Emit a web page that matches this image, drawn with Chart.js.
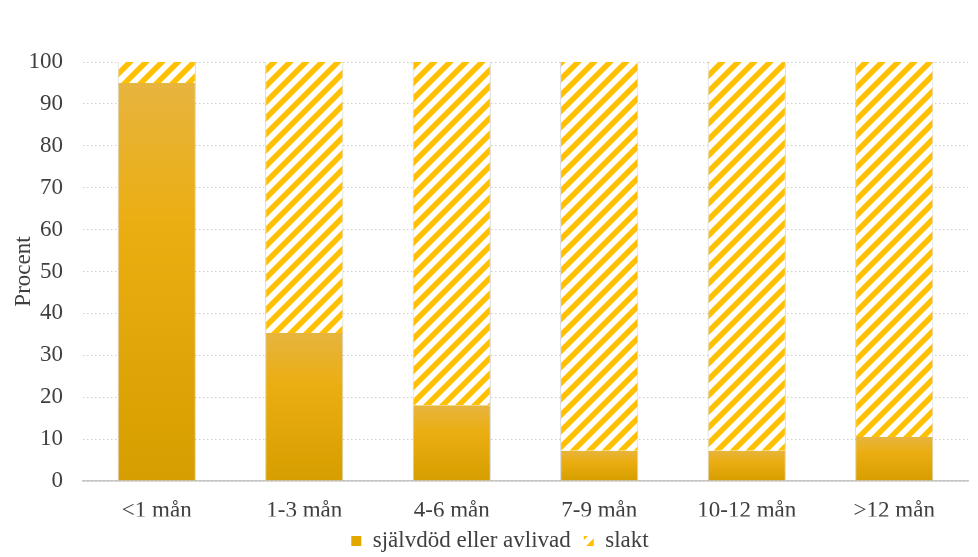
<!DOCTYPE html>
<html>
<head>
<meta charset="utf-8">
<script src="https://cdn.jsdelivr.net/npm/chart.js@4"></script>
<style>
  html, body { margin: 0; padding: 0; background: #fff; }
  #wrap { width: 978px; height: 557px; }
</style>
</head>
<body>
<div id="wrap"><canvas id="chart" width="978" height="557"></canvas></div>
<script>
// data
const categories = ["<1 mån", "1-3 mån", "4-6 mån", "7-9 mån", "10-12 mån", ">12 mån"];
const sjalvdod = [95, 35.3, 18.1, 7.2, 7.2, 10.5];
const slakt = [5, 64.7, 81.9, 92.8, 92.8, 89.5];
const yTicks = [0, 10, 20, 30, 40, 50, 60, 70, 80, 90, 100];

const serif = "'Liberation Serif', 'DejaVu Serif', serif";
const textColor = "#3f3f3f";

// diagonal stripes for "slakt"
function stripePattern() {
  const c = document.createElement("canvas");
  c.width = 16; c.height = 16;
  const g = c.getContext("2d");
  g.fillStyle = "#fff";
  g.fillRect(0, 0, 16, 16);
  g.strokeStyle = "#FFC000";
  g.lineWidth = 5.5;
  g.beginPath();
  g.moveTo(-4, 20); g.lineTo(20, -4);
  g.moveTo(-4, 4); g.lineTo(4, -4);
  g.moveTo(12, 20); g.lineTo(20, 12);
  g.stroke();
  return g.createPattern(c, "repeat");
}

const ctx = document.getElementById("chart").getContext("2d");
const pattern = stripePattern();

// per-bar gradient, lighter at the top
function solidFill(context) {
  const chart = context.chart;
  if (!chart.chartArea || !chart.scales.y) return "#E2A800";
  const top = chart.scales.y.getPixelForValue(context.raw);
  const bottom = chart.scales.y.getPixelForValue(0);
  if (!isFinite(top) || bottom - top < 1) return "#E2A800";
  const gr = chart.ctx.createLinearGradient(0, top, 0, bottom);
  gr.addColorStop(0, "#E7B43E");
  gr.addColorStop(0.35, "#EBAE12");
  gr.addColorStop(1, "#D69E00");
  return gr;
}

// fixed-height legend band, nudged right like the original
const legendBand = {
  id: "legendBand",
  beforeLayout(chart) {
    const lg = chart.legend;
    if (!lg || lg._bandPatched) return;
    const fit = lg.fit;
    lg.fit = function () {
      fit.call(this);
      this.height = 40.5;
    };
    lg._bandPatched = true;
  },
  afterLayout(chart) {
    const lg = chart.legend;
    if (!lg) return;
    lg.left += 16;
    lg.right += 16;
  },
};

new Chart(ctx, {
  type: "bar",
  data: {
    labels: categories,
    datasets: [
      {
        label: "självdöd eller avlivad",
        data: sjalvdod,
        backgroundColor: solidFill,
        borderColor: "rgba(140,140,140,0.4)",
        borderWidth: { left: 1, right: 1, top: 0, bottom: 0 },
        borderSkipped: false,
        categoryPercentage: 1,
        barPercentage: 0.53,
      },
      {
        label: "slakt",
        data: slakt,
        backgroundColor: pattern,
        borderColor: "rgba(140,140,140,0.4)",
        borderWidth: { left: 1, right: 1, top: 0, bottom: 0 },
        borderSkipped: false,
        categoryPercentage: 1,
        barPercentage: 0.53,
      },
    ],
  },
  options: {
    responsive: false,
    animation: false,
    layout: { padding: { top: 62, right: 10, left: 0, bottom: 0 } },
    scales: {
      x: {
        stacked: true,
        afterFit: (axis) => { axis.height = 35.5; },
        grid: { display: false },
        border: { display: true, color: "#c6c6c6", width: 1.5 },
        ticks: {
          color: textColor,
          font: { family: serif, size: 23 },
          padding: 8,
          maxRotation: 0,
        },
      },
      y: {
        stacked: true,
        min: 0,
        max: 100,
        afterBuildTicks: (axis) => { axis.ticks = yTicks.map((v) => ({ value: v })); },
        afterFit: (axis) => { axis.width = 83; },
        grid: { color: "#cfcfcf", lineWidth: 1, drawTicks: false },
        border: { display: false, dash: [1.5, 2.5] },
        ticks: {
          color: textColor,
          font: { family: serif, size: 23 },
          padding: 20,
        },
        title: {
          display: true,
          text: "Procent",
          color: textColor,
          font: { family: serif, size: 23 },
          padding: { top: 10, bottom: 0 },
        },
      },
    },
    plugins: {
      legend: {
        position: "bottom",
        labels: {
          color: textColor,
          font: { family: serif, size: 23 },
          boxWidth: 10,
          boxHeight: 10,
          padding: 13,
          generateLabels: (chart) =>
            chart.data.datasets.map((ds, i) => ({
              text: ds.label,
              fillStyle: i === 0 ? "#E2A800" : pattern,
              strokeStyle: "rgba(0,0,0,0)",
              lineWidth: 0,
              datasetIndex: i,
              fontColor: textColor,
            })),
        },
      },
      tooltip: { enabled: false },
    },
  },
  plugins: [legendBand],
});
</script>
</body>
</html>
